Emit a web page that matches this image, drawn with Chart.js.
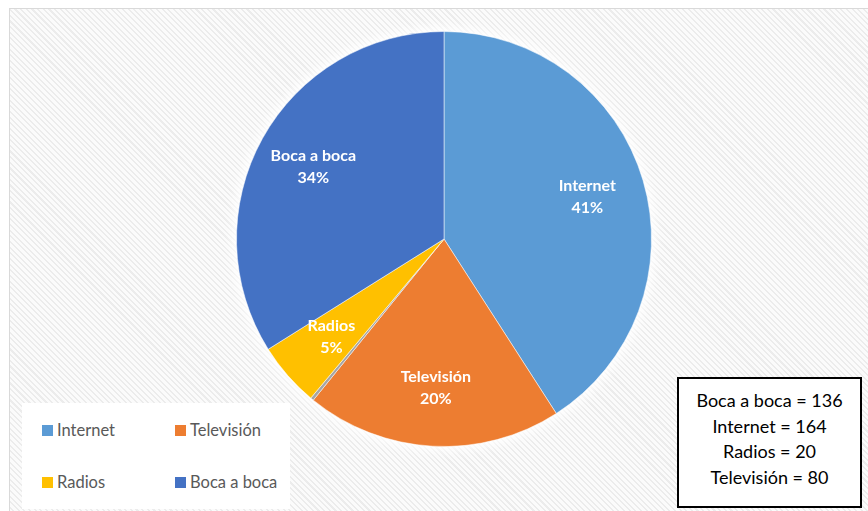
<!DOCTYPE html>
<html>
<head>
<meta charset="utf-8">
<script src="https://cdn.jsdelivr.net/npm/chart.js@4.4.1/dist/chart.umd.min.js"></script>
<style>
  html, body { margin: 0; padding: 0; background: #fff; }
  #wrap { position: relative; width: 868px; height: 511px; overflow: hidden; font-family: Lato, "Open Sans", sans-serif; }
  #frame {
    position: absolute; left: 9px; top: 8px; width: 870px; height: 520px;
    border: 1px solid #d9d9d9;
    background: repeating-linear-gradient(45deg, #fbfbfb 0px, #fbfbfb 2.5px, #ececec 2.5px, #ececec 4px);
  }
  canvas { position: absolute; left: 0; top: 0; }
  #legend {
    position: absolute; left: 22px; top: 403px; width: 268px; height: 106px;
    background: #fff; display: grid; grid-template-columns: 133px 135px; grid-template-rows: 52px 52px;
    padding-left: 20px; box-sizing: border-box; padding-top: 1px;
  }
  #legend div { display: flex; align-items: center; font-size: 16.5px; color: #595959; }
  #legend span { display: inline-block; width: 11px; height: 11px; margin-right: 4px; }
  #note {
    position: absolute; left: 677px; top: 377px; width: 185px; height: 131px;
    border: 2px solid #000; background: #fff; box-sizing: border-box; padding-bottom: 7px;
    display: flex; flex-direction: column; justify-content: center; align-items: center;
    font-size: 18px; color: #000; line-height: 25.5px;
  }
</style>
</head>
<body>
<div id="wrap">
  <div id="frame"></div>
  <canvas id="chart" width="868" height="511"></canvas>
  <div id="legend"></div>
  <div id="note"></div>
</div>
<script>
const categories = ['Internet', 'Televisión', '', 'Radios', 'Boca a boca'];
const values = [164, 80, 1, 20, 136];
const colors = ['#5B9BD5', '#ED7D31', '#A5A5A5', '#FFC000', '#4472C4'];

const total = values.reduce((a, b) => a + b, 0);

// soft white glow behind the pie
const glow = {
  id: 'glow',
  beforeDatasetsDraw(chart) {
    const arc = chart.getDatasetMeta(0).data[0];
    const ctx = chart.ctx;
    ctx.save();
    ctx.shadowColor = 'rgba(255,255,255,1)';
    ctx.shadowBlur = 14;
    ctx.fillStyle = '#fff';
    ctx.beginPath();
    ctx.arc(arc.x, arc.y, arc.outerRadius, 0, Math.PI * 2);
    ctx.fill();
    ctx.fill();
    ctx.restore();
  }
};

// white bold labels inside slices
const sliceLabels = {
  id: 'sliceLabels',
  afterDatasetsDraw(chart) {
    const ctx = chart.ctx;
    const meta = chart.getDatasetMeta(0);
    ctx.save();
    ctx.fillStyle = '#fff';
    ctx.font = 'bold 16px Lato, "Open Sans", sans-serif';
    ctx.textAlign = 'center';
    ctx.textBaseline = 'middle';
    meta.data.forEach((arc, i) => {
      if (!categories[i]) return;
      const mid = (arc.startAngle + arc.endAngle) / 2;
      const r = arc.outerRadius * 0.72;
      const x = arc.x + Math.cos(mid) * r;
      const y = arc.y + Math.sin(mid) * r;
      const pct = Math.round(values[i] / total * 100) + '%';
      ctx.fillText(categories[i], x, y - 11);
      ctx.fillText(pct, x, y + 11);
    });
    ctx.restore();
  }
};

const ctx = document.getElementById('chart').getContext('2d');
new Chart(ctx, {
  type: 'pie',
  data: {
    labels: categories,
    datasets: [{
      data: values,
      backgroundColor: colors,
      borderColor: 'rgba(255,255,255,0.5)',
      borderWidth: 1
    }]
  },
  options: {
    responsive: false,
    animation: false,
    layout: { padding: { left: 236, right: 216, top: 31, bottom: 64 } },
    plugins: { legend: { display: false }, tooltip: { enabled: false } }
  },
  plugins: [glow, sliceLabels]
});

// legend, without the blank category
const legend = document.getElementById('legend');
categories.forEach((c, i) => {
  if (!c) return;
  const d = document.createElement('div');
  d.innerHTML = '<span style="background:' + colors[i] + '"></span>' + c;
  legend.appendChild(d);
});

// note box, alphabetical
const note = document.getElementById('note');
categories.map((c, i) => [c, values[i]]).filter(p => p[0])
  .sort((a, b) => a[0].localeCompare(b[0]))
  .forEach(p => {
    const d = document.createElement('div');
    d.textContent = p[0] + ' = ' + p[1];
    note.appendChild(d);
  });
</script>
</body>
</html>
